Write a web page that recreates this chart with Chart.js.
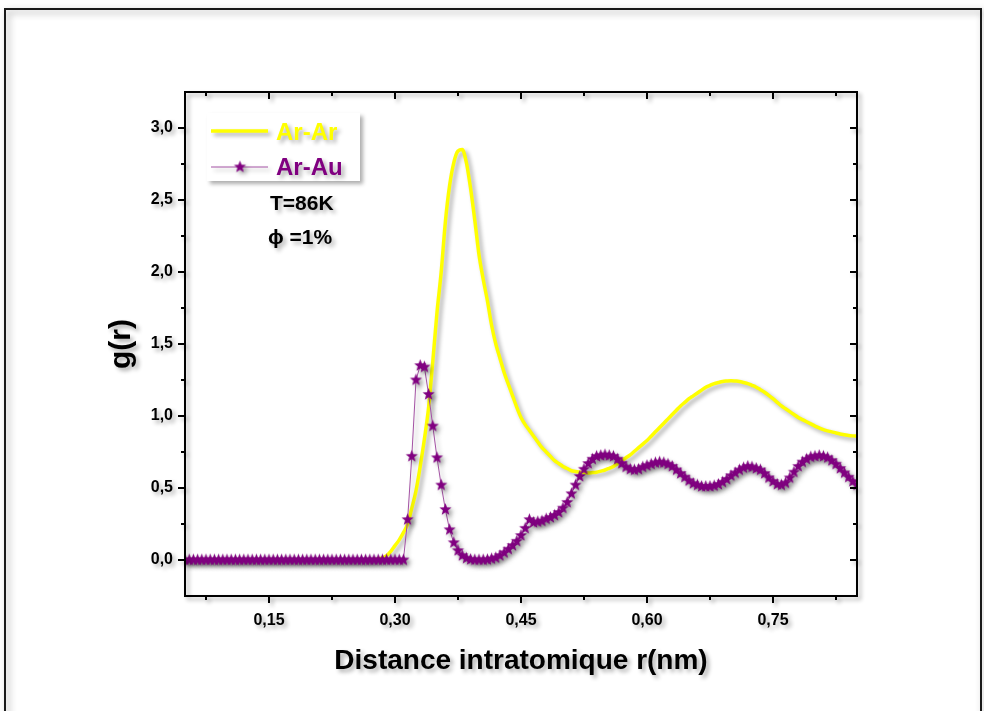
<!DOCTYPE html>
<html>
<head>
<meta charset="utf-8">
<script src="https://cdn.jsdelivr.net/npm/chart.js@4.4.0/dist/chart.umd.min.js"></script>
<style>html,body{margin:0;padding:0;background:#fff;}canvas{display:block;}</style>
</head>
<body>
<canvas id="c" width="984" height="711"></canvas>
<script>
// ---- data ----
const rValues = [
0.050,0.055,0.060,0.065,0.070,0.075,0.080,0.085,0.090,0.095,
0.100,0.105,0.110,0.115,0.120,0.125,0.130,0.135,0.140,0.145,
0.150,0.155,0.160,0.165,0.170,0.175,0.180,0.185,0.190,0.195,
0.200,0.205,0.210,0.215,0.220,0.225,0.230,0.235,0.240,0.245,
0.250,0.255,0.260,0.265,0.270,0.275,0.280,0.285,0.290,0.295,
0.300,0.305,0.310,0.315,0.320,0.325,0.330,0.335,0.340,0.345,
0.350,0.355,0.360,0.365,0.370,0.375,0.380,0.385,0.390,0.395,
0.400,0.405,0.410,0.415,0.420,0.425,0.430,0.435,0.440,0.445,
0.450,0.455,0.460,0.465,0.470,0.475,0.480,0.485,0.490,0.495,
0.500,0.505,0.510,0.515,0.520,0.525,0.530,0.535,0.540,0.545,
0.550,0.555,0.560,0.565,0.570,0.575,0.580,0.585,0.590,0.595,
0.600,0.605,0.610,0.615,0.620,0.625,0.630,0.635,0.640,0.645,
0.650,0.655,0.660,0.665,0.670,0.675,0.680,0.685,0.690,0.695,
0.700,0.705,0.710,0.715,0.720,0.725,0.730,0.735,0.740,0.745,
0.750,0.755,0.760,0.765,0.770,0.775,0.780,0.785,0.790,0.795,
0.800,0.805,0.810,0.815,0.820,0.825,0.830,0.835,0.840,0.845,
0.850];
const arArValues = [
0,0,0,0,0,0,0,0,0,0,
0,0,0,0,0,0,0,0,0,0,
0,0,0,0,0,0,0,0,0,0,
0,0,0,0,0,0,0,0,0,0,
0,0,0,0,0,0.003,0.008,0.015,0.03,0.06,
0.10,0.14,0.19,0.25,0.36,0.48,0.65,0.84,1.06,1.38,
1.72,2.00,2.35,2.60,2.76,2.84,2.85,2.76,2.58,2.36,
2.12,1.95,1.80,1.63,1.50,1.40,1.30,1.22,1.14,1.06,
0.99,0.94,0.90,0.86,0.82,0.78,0.75,0.72,0.69,0.67,
0.65,0.635,0.62,0.615,0.61,0.607,0.605,0.607,0.61,0.617,
0.625,0.637,0.65,0.67,0.69,0.71,0.73,0.755,0.78,0.805,
0.83,0.86,0.89,0.92,0.95,0.98,1.01,1.04,1.07,1.095,
1.12,1.14,1.16,1.18,1.20,1.213,1.225,1.233,1.24,1.243,
1.245,1.243,1.24,1.233,1.225,1.213,1.20,1.183,1.165,1.143,
1.12,1.095,1.07,1.05,1.03,1.01,0.99,0.975,0.96,0.945,
0.93,0.917,0.905,0.897,0.89,0.882,0.875,0.87,0.865,0.862,
0.86];
const arAuValues = [
0,0,0,0,0,0,0,0,0,0,
0,0,0,0,0,0,0,0,0,0,
0,0,0,0,0,0,0,0,0,0,
0,0,0,0,0,0,0,0,0,0,
0,0,0,0,0,0,0,0,0,0,
0,0,0,0.28,0.72,1.25,1.35,1.34,1.15,0.93,
0.71,0.52,0.35,0.21,0.12,0.065,0.03,0.012,0.003,0,
0,0,0.002,0.008,0.015,0.03,0.05,0.075,0.10,0.13,
0.17,0.22,0.28,0.26,0.265,0.27,0.285,0.295,0.31,0.33,
0.36,0.40,0.46,0.52,0.58,0.63,0.67,0.70,0.72,0.725,
0.73,0.725,0.72,0.70,0.67,0.645,0.63,0.625,0.63,0.645,
0.655,0.665,0.675,0.68,0.675,0.665,0.65,0.625,0.60,0.575,
0.55,0.53,0.52,0.51,0.51,0.51,0.515,0.525,0.54,0.56,
0.585,0.605,0.625,0.64,0.65,0.645,0.635,0.625,0.60,0.57,
0.545,0.525,0.52,0.535,0.57,0.61,0.65,0.68,0.70,0.715,
0.72,0.725,0.72,0.71,0.69,0.665,0.635,0.605,0.575,0.545,
0.52];
const seriesNames = ['Ar-Ar', 'Ar-Au'];
const xTickValues = [0.15, 0.30, 0.45, 0.60, 0.75];
const xTickLabels = ['0,15', '0,30', '0,45', '0,60', '0,75'];
const xMinorTicks = [0.075, 0.225, 0.375, 0.525, 0.675, 0.825];
const yTickValues = [0, 0.5, 1.0, 1.5, 2.0, 2.5, 3.0];
const yTickLabels = ['0,0', '0,5', '1,0', '1,5', '2,0', '2,5', '3,0'];
const yMinorTicks = [0.25, 0.75, 1.25, 1.75, 2.25, 2.75];
const annotationLines = ['T=86K', '\u03D5 =1%'];
const xTitle = 'Distance intratomique r(nm)';
const yTitle = 'g(r)';

// ---- styling ----
const FONT = "'Liberation Sans', Arial, Helvetica, sans-serif";
const YELLOW = '#FFFF00';
const PURPLE = '#800080';
const PURPLE_LINE = '#A452A4';

function makeStar(color, R, r) {
  const size = Math.ceil(R * 2 + 2);
  const c = document.createElement('canvas');
  c.width = size; c.height = size;
  const g = c.getContext('2d');
  g.fillStyle = color;
  g.beginPath();
  for (let i = 0; i < 10; i++) {
    const a = -Math.PI / 2 + i * Math.PI / 5;
    const rad = (i % 2) ? r : R;
    g.lineTo(size / 2 + rad * Math.cos(a), size / 2 + rad * Math.sin(a));
  }
  g.closePath();
  g.fill();
  return c;
}
const starImg = makeStar(PURPLE, 6.4, 2.7);

function setShadow(ctx) {
  ctx.shadowColor = 'rgba(0,0,0,0.32)';
  ctx.shadowBlur = 4;
  ctx.shadowOffsetX = 3;
  ctx.shadowOffsetY = 3;
}
function clearShadow(ctx) {
  ctx.shadowColor = 'rgba(0,0,0,0)';
  ctx.shadowBlur = 0;
  ctx.shadowOffsetX = 0;
  ctx.shadowOffsetY = 0;
}

const decorPlugin = {
  id: 'decor',
  beforeDraw(chart) {
    const ctx = chart.ctx;
    ctx.save();
    ctx.fillStyle = '#fff';
    ctx.fillRect(0, 0, chart.width, chart.height);
    ctx.shadowColor = 'rgba(0,0,0,0.4)';
    ctx.shadowBlur = 7;
    ctx.shadowOffsetX = 3;
    ctx.shadowOffsetY = 3;
    ctx.strokeStyle = '#1a1a1a';
    ctx.lineWidth = 2;
    ctx.strokeRect(5, 9, 976, 730);
    ctx.restore();
    setShadow(ctx);
  },
  afterDatasetsDraw(chart) {
    const ctx = chart.ctx;
    const xs = chart.scales.x, ys = chart.scales.y;
    const a = chart.chartArea;
    ctx.save();
    setShadow(ctx);
    ctx.strokeStyle = '#000';
    ctx.lineWidth = 2;
    ctx.strokeRect(a.left, a.top, a.right - a.left, a.bottom - a.top);
    ctx.lineWidth = 2;
    const MAJ = 7, MIN = 4;
    ctx.beginPath();
    const xt = (v, len) => {
      const p = Math.round(xs.getPixelForValue(v));
      ctx.moveTo(p, a.bottom); ctx.lineTo(p, a.bottom + len);
      ctx.moveTo(p, a.top); ctx.lineTo(p, a.top + len);
    };
    const yt = (v, len) => {
      const p = Math.round(ys.getPixelForValue(v));
      ctx.moveTo(a.left, p); ctx.lineTo(a.left - len, p);
      ctx.moveTo(a.right, p); ctx.lineTo(a.right - len, p);
    };
    xTickValues.forEach(v => xt(v, MAJ));
    xMinorTicks.forEach(v => xt(v, MIN));
    yTickValues.forEach(v => yt(v, MAJ));
    yMinorTicks.forEach(v => yt(v, MIN));
    ctx.stroke();

    // legend box
    ctx.fillStyle = '#fff';
    ctx.fillRect(207, 113, 153, 68);
    // entry 1
    ctx.strokeStyle = YELLOW;
    ctx.lineWidth = 3.5;
    ctx.beginPath(); ctx.moveTo(211, 131); ctx.lineTo(268, 131); ctx.stroke();
    ctx.font = 'bold 24px ' + FONT;
    ctx.textBaseline = 'middle';
    ctx.textAlign = 'left';
    ctx.fillStyle = YELLOW;
    ctx.fillText(seriesNames[0], 276, 133);
    // entry 2
    ctx.strokeStyle = PURPLE_LINE;
    ctx.lineWidth = 1;
    ctx.beginPath(); ctx.moveTo(211, 167); ctx.lineTo(268, 167); ctx.stroke();
    ctx.drawImage(starImg, 240 - starImg.width / 2, 167 - starImg.height / 2);
    ctx.fillStyle = PURPLE;
    ctx.fillText(seriesNames[1], 276, 168);
    // annotation
    ctx.fillStyle = '#000';
    ctx.font = 'bold 21px ' + FONT;
    ctx.fillText(annotationLines[0], 270, 204);
    ctx.fillText(annotationLines[1], 268, 238);
    ctx.restore();
  },
  afterDraw(chart) {
    clearShadow(chart.ctx);
  }
};

const ctx = document.getElementById('c').getContext('2d');
new Chart(ctx, {
  type: 'line',
  data: {
    datasets: [
      {
        label: seriesNames[0],
        data: rValues.map((r, i) => ({ x: r, y: arArValues[i] })),
        borderColor: YELLOW,
        backgroundColor: YELLOW,
        borderWidth: 3.5,
        pointRadius: 0,
        cubicInterpolationMode: 'monotone',
        fill: false,
        clip: 0,
        order: 1
      },
      {
        label: seriesNames[1],
        data: rValues.map((r, i) => ({ x: r, y: arAuValues[i] })),
        borderColor: PURPLE_LINE,
        backgroundColor: PURPLE,
        borderWidth: 1,
        pointStyle: starImg,
        pointRadius: 6,
        tension: 0,
        fill: false,
        clip: 0,
        order: 0
      }
    ]
  },
  options: {
    responsive: false,
    animation: false,
    events: [],
    layout: { padding: { left: 0, top: 92, right: 127, bottom: 0 } },
    plugins: { legend: { display: false }, tooltip: { enabled: false } },
    scales: {
      x: {
        type: 'linear',
        min: 0.05,
        max: 0.85,
        afterFit: s => { s.height = 115; },
        afterBuildTicks: s => { s.ticks = xTickValues.map(v => ({ value: v })); },
        ticks: {
          callback: (v, i) => xTickLabels[i],
          padding: 15,
          color: '#000',
          font: { family: FONT, size: 16, weight: 'bold' },
          autoSkip: false,
          maxRotation: 0
        },
        grid: { display: false, drawTicks: false, drawOnChartArea: false },
        border: { display: false },
        title: {
          display: true,
          text: xTitle,
          color: '#000',
          font: { family: FONT, size: 28, weight: 'bold' },
          padding: { top: 0, bottom: 33 }
        }
      },
      y: {
        type: 'linear',
        min: -0.25,
        max: 3.25,
        afterFit: s => { s.width = 185; },
        afterBuildTicks: s => { s.ticks = yTickValues.map(v => ({ value: v })); },
        ticks: {
          callback: (v, i) => yTickLabels[i],
          padding: 12,
          color: '#000',
          font: { family: FONT, size: 16, weight: 'bold' },
          autoSkip: false
        },
        grid: { display: false, drawTicks: false, drawOnChartArea: false },
        border: { display: false },
        title: {
          display: true,
          text: yTitle,
          color: '#000',
          font: { family: FONT, size: 30, weight: 'bold' },
          padding: { top: 104, bottom: 0 }
        }
      }
    }
  },
  plugins: [decorPlugin]
});
</script>
</body>
</html>
